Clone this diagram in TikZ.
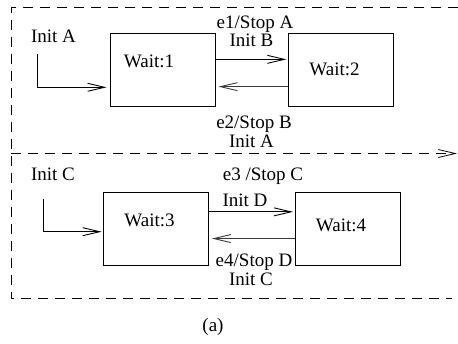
\documentclass[tikz,border=0pt]{standalone}
\usepackage{fontspec}
\setmainfont{Liberation Serif}
\usepackage{xcolor}
\usepackage{tikz}
\usetikzlibrary{positioning, calc, arrows.meta}
\definecolor{FsmInk}{HTML}{000000}
\definecolor{FsmBack}{HTML}{3A3A3A}

\tikzset{
  waitbox/.style={draw=FsmInk, line width=0.9pt, minimum width=105pt, minimum height=73pt, inner sep=0pt},
  fsmtxt/.style={anchor=base, inner sep=0pt, text=FsmInk},
  fsmarrow/.style={draw=FsmInk, line width=0.9pt, -{Straight Barb[length=17pt,width=8pt]}},
  frameline/.style={draw=FsmInk, line width=0.8pt, dash pattern=on 10pt off 7pt},
}

\begin{document}
\begin{tikzpicture}[x=1pt, y=-1pt, font=\fontsize{19}{22}\selectfont]
  \useasboundingbox (0,0) rectangle (458,343);
  % dashed frame of the two halves
  \draw[frameline] (458,7.5) -- (11,7.5) -- (11,298.5) -- (452,298.5);
  \draw[frameline, -{Straight Barb[length=17pt,width=8pt]}] (11,153.5) -- (457,153.5);
  % states
  \node[waitbox] (wait1) at (162.5,70.3) {};
  \node[waitbox] (wait2) at (341.3,70.3) {};
  \node[waitbox] (wait3) at (156.2,229.2) {};
  \node[waitbox] (wait4) at (347.9,229.2) {};
  \foreach \s/\dx/\dy in {1/-13.5/-3.3, 2/-6.8/4.7, 3/-6.7/-2.5, 4/-6.9/2.5}{
     \node[fsmtxt] (lbl\s) at ($(wait\s.center)+(\dx,\dy)$) {Wait:\s};}
  % initial transitions
  \coordinate (initA) at (37.3,54);
  \coordinate (initC) at (43.3,199.3);
  \node[fsmtxt] (initAtxt) at (53.5,42) {Init A};
  \node[fsmtxt] (initCtxt) at (53,180.7) {Init C};
  \draw[fsmarrow] (initA) |- ($(wait1.west)+(-3,17)$);
  \draw[fsmarrow] (initC) |- ($(wait3.west)+(-1.6,2.5)$);
  % upper pair 1 <-> 2
  \draw[fsmarrow] ($(wait1.north east)+(1,26)$) -- ($(wait2.north west)+(-2,26)$);
  \draw[fsmarrow, draw=FsmBack] ($(wait2.north west)+(0,53.3)$) -- ($(wait1.north east)+(3,53.3)$);
  \node[fsmtxt] (e1txt) at (255,28.3) {e1/Stop A};
  \node[fsmtxt] (initBtxt) at (251.5,46) {Init B};
  \node[fsmtxt] (e2txt) at (254,128) {e2/Stop B};
  \node[fsmtxt] (initA2txt) at (251.5,147) {Init A};
  % lower pair 3 <-> 4
  \draw[fsmarrow] ($(wait3.north east)+(0,19.6)$) -- ($(wait4.north west)+(-2,19.6)$);
  \draw[fsmarrow, draw=FsmBack] ($(wait4.north west)+(0,46.3)$) -- ($(wait3.north east)+(2.7,46.3)$);
  \node[fsmtxt] (e3txt) at (263,180.7) {e3 /Stop C};
  \node[fsmtxt] (initDtxt) at (245,206.7) {Init D};
  \node[fsmtxt] (e4txt) at (254,266.7) {e4/Stop D};
  \node[fsmtxt] (initC2txt) at (251,285) {Init C};
  % caption
  \node[fsmtxt] (caption) at (213,331.7) {(a)};
\end{tikzpicture}
\end{document}
